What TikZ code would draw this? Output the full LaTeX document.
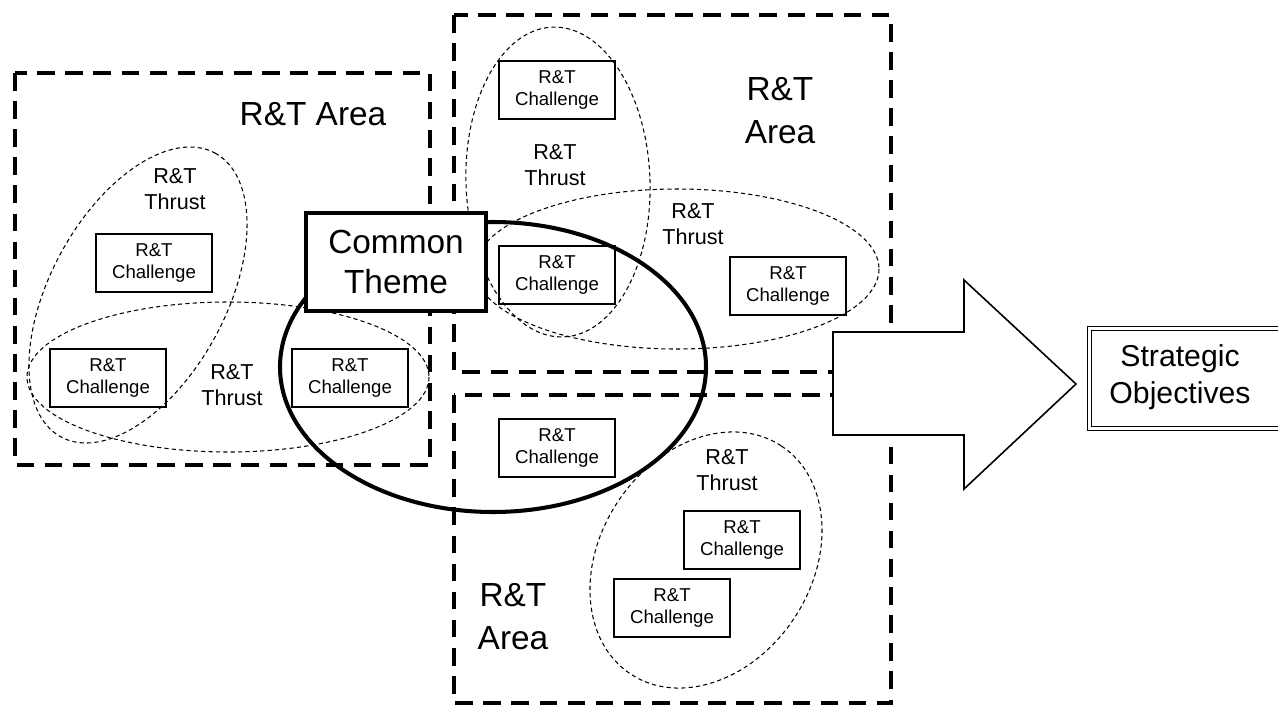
\documentclass[tikz,border=0pt]{standalone}
\usepackage{fontspec}
\setmainfont{Liberation Sans}
\begin{document}
\begin{tikzpicture}[x=0.02cm, y=-0.02cm,
		area/.style={line width=2.3pt, dash pattern=on 10pt off 6pt},
		thrust/.style={line width=0.6pt, dash pattern=on 2.4pt off 1.8pt},
		chal/.style={draw, line width=1pt, minimum width=2.32cm, minimum height=1.16cm, inner sep=0pt, align=center, font=\fontsize{10.6}{12.3}\selectfont},
		thrustlbl/.style={align=center, inner sep=0pt, font=\fontsize{12.3}{15.1}\selectfont},
		arealbl/.style={align=center, inner sep=0pt, font=\fontsize{19}{24.4}\selectfont}]
	\useasboundingbox (0,0) rectangle (1278,707);
	\clip (0,0) rectangle (1278,707);
	% areas
	\draw[area] (15,73) rectangle (430,465);
	\draw[area] (454,15) rectangle (891,372);
	\draw[area] (454,395) rectangle (891,703);
	\node[arealbl] (areaL) at (313,114) {R\&T Area};
	\node[arealbl] (areaTR) at (780,111) {R\&T\\Area};
	\node[arealbl] (areaB) at (513,617) {R\&T\\Area};
	% thrusts
	\draw[thrust, rotate around={61.5:(138,295)}] (138,295) ellipse [x radius=161.5, y radius=87.8];
	\draw[thrust] (228,377) ellipse [x radius=201, y radius=75];
	\draw[thrust, rotate around={2:(558,182)}] (558,182) ellipse [x radius=92, y radius=155];
	\draw[thrust] (677,269) ellipse [x radius=202, y radius=80];
	\draw[thrust, rotate around={56.5:(706,560)}] (706,560) ellipse [x radius=136.7, y radius=105.7];
	\node[thrustlbl] (thrustA) at (175,189) {R\&T\\Thrust};
	\node[thrustlbl] (thrustB) at (232,385) {R\&T\\Thrust};
	\node[thrustlbl] (thrustC) at (555,165) {R\&T\\Thrust};
	\node[thrustlbl] (thrustD) at (693,224) {R\&T\\Thrust};
	\node[thrustlbl] (thrustE) at (727,470) {R\&T\\Thrust};
	% challenges
	\node[chal] (chalA) at (154,263) {R\&T\\Challenge};
	\node[chal] (chalB) at (108,378) {R\&T\\Challenge};
	\node[chal] (chalC) at (350,378) {R\&T\\Challenge};
	\node[chal] (chalD) at (557,90) {R\&T\\Challenge};
	\node[chal] (chalE) at (557,275) {R\&T\\Challenge};
	\node[chal] (chalF) at (788,286) {R\&T\\Challenge};
	\node[chal] (chalG) at (557,448) {R\&T\\Challenge};
	\node[chal] (chalH) at (742,540) {R\&T\\Challenge};
	\node[chal] (chalI) at (672,608) {R\&T\\Challenge};
	% common theme
	\draw[line width=2.3pt] (493,367) ellipse [x radius=213, y radius=145];
	\node[draw, fill=white, line width=2.8pt, minimum width=3.6cm, minimum height=1.96cm, inner sep=0pt, align=center, font=\fontsize{19}{22.7}\selectfont] (theme) at (396,262) {Common\\Theme};
	% big arrow and objectives
	\draw[fill=white, line width=0.9pt] (833,332) -- (964,332) -- (964,280) -- (1076,384) -- (964,489) -- (964,435) -- (833,435) -- cycle;
	\node[align=center, inner sep=0pt, font=\fontsize{17.2}{20.8}\selectfont] (goal) at (1180,377) {Strategic\\Objectives};
	\draw[double, line width=0.7pt, double distance=1.3pt] (1089.5,328.5) rectangle (1300,428.5);
\end{tikzpicture}
\end{document}
